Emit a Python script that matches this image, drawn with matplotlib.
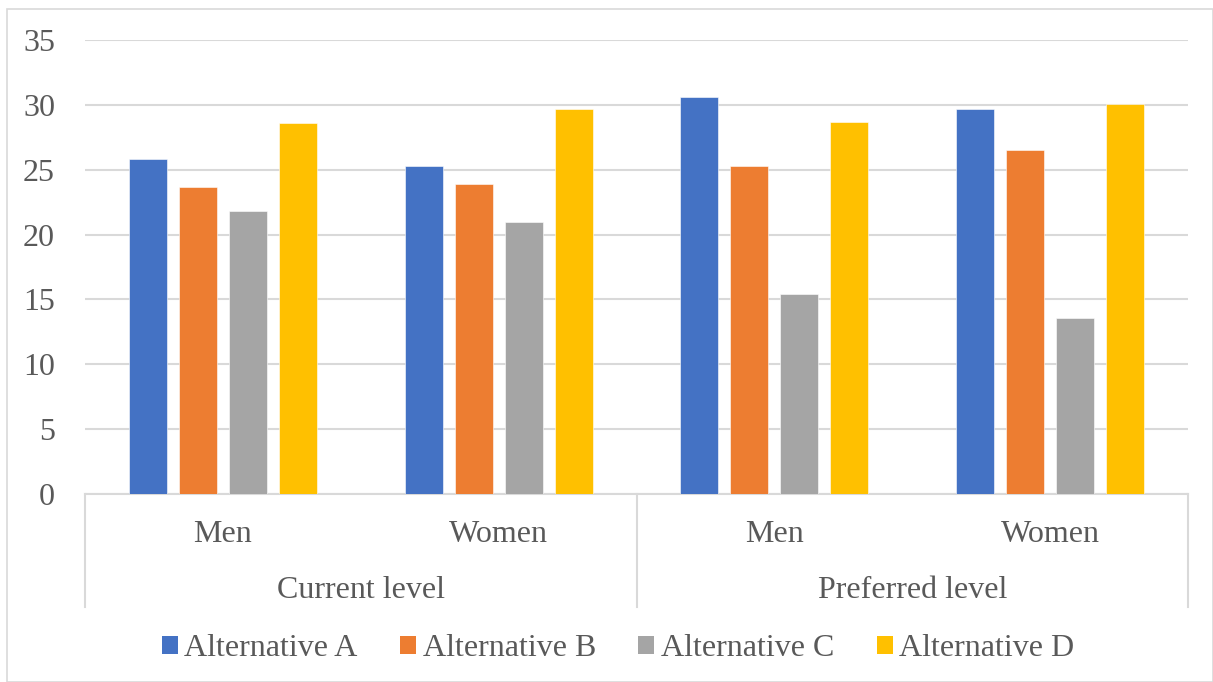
import matplotlib
matplotlib.use("Agg")
import matplotlib.pyplot as plt
from matplotlib.patches import Rectangle, Patch
from matplotlib.lines import Line2D
import matplotlib.transforms as mtransforms
import numpy as np

plt.rcParams['font.family'] = ['Liberation Serif', 'DejaVu Serif']

# Data
groups = ["Current level", "Preferred level"]
subgroups = ["Men", "Women", "Men", "Women"]
series_names = ["Alternative A", "Alternative B", "Alternative C", "Alternative D"]
alt_a = [25.8, 25.3, 30.6, 29.7]
alt_b = [23.7, 23.9, 25.3, 26.5]
alt_c = [21.8, 21.0, 15.4, 13.6]
alt_d = [28.6, 29.7, 28.7, 30.1]
yticks = [0, 5, 10, 15, 20, 25, 30, 35]

colors = ["#4472C4", "#ED7D31", "#A5A5A5", "#FFC000"]
text_color = "#595959"
grid_color = "#D9D9D9"
fs = 23

W, H = 1213, 682
fig = plt.figure(figsize=(W / 100, H / 100), dpi=100)

# chart frame
fig.patches.append(Rectangle((7 / W, 0), (W - 7) / W, (H - 9) / H, transform=fig.transFigure,
                             fill=False, edgecolor=grid_color, linewidth=1.2))

left, right, top, bottom = 85, 1188, 40, 494
ax = fig.add_axes([left / W, (H - bottom) / H, (right - left) / W, (bottom - top) / H])

x = np.arange(len(subgroups))
pitch = 0.1813
width = 0.138
all_series = [alt_a, alt_b, alt_c, alt_d]
for i, (vals, name, col) in enumerate(zip(all_series, series_names, colors)):
    ax.bar(x + (i - 1.5) * pitch, vals, width, color=col, label=name,
           edgecolor="white", linewidth=0.4, zorder=3)

ax.set_xlim(-0.5, len(subgroups) - 0.5)
ax.set_ylim(0, 35)
ax.set_yticks(yticks)
ax.set_yticklabels([str(t) for t in yticks], fontsize=fs, color=text_color)
ax.tick_params(axis='y', length=0, pad=21.6)
ax.tick_params(axis='x', length=0, labelbottom=False)
ax.yaxis.grid(True, color=grid_color, linewidth=1.5, zorder=0)
ax.set_axisbelow(True)
for s in ["top", "right", "left"]:
    ax.spines[s].set_visible(False)
ax.spines["bottom"].set_color(grid_color)
ax.spines["bottom"].set_linewidth(1.5)

trans = mtransforms.blended_transform_factory(ax.transData, ax.transAxes)
ph = bottom - top
y_sub = -(534 - bottom) / ph
y_grp = -(591 - bottom) / ph
y_sep = -(607 - bottom) / ph

for xi, lab in zip(x, subgroups):
    ax.text(xi, y_sub, lab, transform=trans, ha="center", va="center",
            fontsize=fs, color=text_color, clip_on=False)
for gi, lab in enumerate(groups):
    ax.text(2 * gi + 0.5, y_grp, lab, transform=trans, ha="center", va="center",
            fontsize=fs, color=text_color, clip_on=False)
for xs in [-0.5, 1.5, 3.5]:
    ax.add_line(Line2D([xs, xs], [0, y_sep], transform=trans, color=grid_color,
                       linewidth=1.5, clip_on=False))

handles = [Patch(facecolor=c, edgecolor="none") for c in colors]
leg = fig.legend(handles, series_names, loc="center", bbox_to_anchor=(618 / W, 1 - 649 / H),
                 ncol=4, frameon=False, fontsize=fs, handlelength=0.5, handleheight=0.5,
                 handletextpad=0.2, columnspacing=1.33)
for t in leg.get_texts():
    t.set_color(text_color)

fig.savefig("out.png", dpi=100)
